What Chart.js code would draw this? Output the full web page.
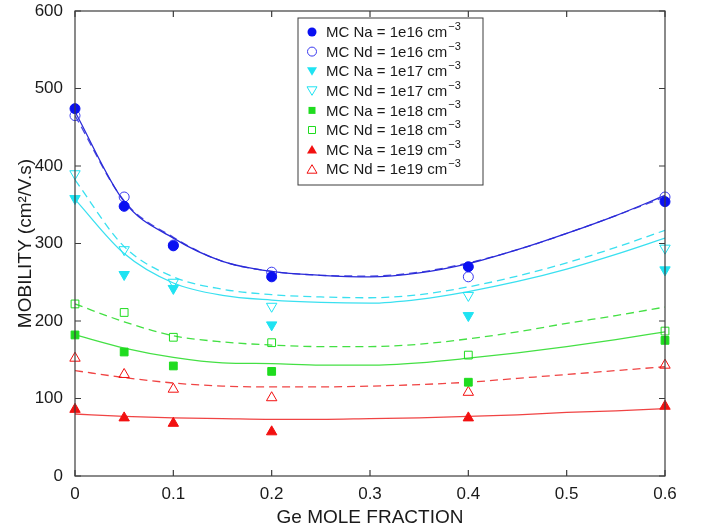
<!DOCTYPE html>
<html>
<head>
<meta charset="utf-8">
<script src="https://cdn.jsdelivr.net/npm/chart.js@4"></script>
<style>
  html, body { margin: 0; padding: 0; background: #fff; }
  #wrap { width: 705px; height: 532px; }
</style>
</head>
<body>
<div id="wrap"><canvas id="myChart" width="705" height="532"></canvas></div>
<script>
// Monte Carlo points (Ge mole fraction vs mobility)
const molePts = [0, 0.05, 0.1, 0.2, 0.4, 0.6];
const naE16 = [474, 348, 297, 257, 270, 354];
const ndE16 = [465, 360, 298, 263, 257, 360];
const naE17 = [358, 260, 242, 195, 207, 266];
const ndE17 = [390, 292, 250, 219, 233, 294];
const naE18 = [182, 160, 142, 135, 121, 175];
const ndE18 = [222, 211, 179, 172, 156, 187];
const naE19 = [86, 75, 68, 57, 75, 90];
const ndE19 = [152, 131, 112, 101, 108, 143];

// fitted curves
const fitX = [0, 0.05, 0.1, 0.15, 0.2, 0.25, 0.3, 0.35, 0.4, 0.45, 0.5, 0.55, 0.6];
const fitNa16 = [470, 354, 307, 277, 264, 259, 257, 262, 274, 292, 313, 336, 362];
const fitNd16 = [465, 355, 308, 277, 264, 259, 258, 263, 275, 292, 313, 336, 360];
const fitNa17 = [357, 287, 249, 233, 227, 224, 223, 228, 238, 251, 267, 286, 307];
const fitNd17 = [382, 296, 257, 241, 234, 231, 230, 234, 244, 258, 275, 295, 317];
const fitNa18 = [182, 165, 153, 146, 145, 143, 143, 146, 152, 159, 167, 176, 186];
const fitNd18 = [222, 199, 181, 173, 169, 167, 167, 170, 177, 186, 197, 207, 218];
const fitNa19 = [80, 77, 75, 74, 73, 73, 74, 75, 77, 79, 82, 84, 87];
const fitNd19 = [136, 127, 120, 116, 115, 115, 116, 118, 121, 126, 131, 136, 141];

const xTicks = [0, 0.1, 0.2, 0.3, 0.4, 0.5, 0.6];
const yTicks = [0, 100, 200, 300, 400, 500, 600];

const FONT = '"Liberation Sans", Arial, sans-serif';
const BLUE = '#0a10f2', CYAN = '#1fe3f2', GREEN = '#1fdc1f', RED = '#f21010';

const pts = (xs, ys) => xs.map((x, i) => ({ x: x, y: ys[i] }));

function marker(label, ys, color, shape, filled) {
    let r = 5;
    if (shape === 'rect') r = 5.5;
    if (shape === 'triangle' || shape === 'down') r = 6;
    return {
        label: label,
        legendLabel: label,
        legendShape: shape,
        data: pts(molePts, ys),
        showLine: false,
        clip: false,
        pointStyle: shape === 'down' ? 'triangle' : shape,
        rotation: shape === 'down' ? 180 : 0,
        pointRadius: r,
        borderWidth: 1,
        borderColor: color,
        backgroundColor: filled ? color : 'rgba(0,0,0,0)',
        pointBackgroundColor: filled ? color : 'rgba(0,0,0,0)',
        filledMark: filled
    };
}
function fit(ys, color, dashed) {
    return {
        label: '',
        data: pts(fitX, ys),
        pointRadius: 0,
        borderColor: color,
        borderWidth: 1.3,
        borderDash: dashed ? [8, 5] : [],
        cubicInterpolationMode: 'monotone',
        fill: false
    };
}

const datasets = [
    marker('MC Na = 1e16 cm', naE16, BLUE, 'circle', true),
    marker('MC Nd = 1e16 cm', ndE16, '#3a3af0', 'circle', false),
    marker('MC Na = 1e17 cm', naE17, CYAN, 'down', true),
    marker('MC Nd = 1e17 cm', ndE17, CYAN, 'down', false),
    marker('MC Na = 1e18 cm', naE18, GREEN, 'rect', true),
    marker('MC Nd = 1e18 cm', ndE18, GREEN, 'rect', false),
    marker('MC Na = 1e19 cm', naE19, RED, 'triangle', true),
    marker('MC Nd = 1e19 cm', ndE19, RED, 'triangle', false),
    fit(fitNa16, '#2a2ad8', false),
    fit(fitNd16, '#4a4ae0', true),
    fit(fitNa17, '#3ae0f0', false),
    fit(fitNd17, '#3ae0f0', true),
    fit(fitNa18, '#44e044', false),
    fit(fitNd18, '#44e044', true),
    fit(fitNa19, '#f04444', false),
    fit(fitNd19, '#f04444', true)
];

// draws the little markers for the legend by hand
function drawMark(ctx, shape, x, y, color, filled) {
    ctx.save();
    ctx.strokeStyle = color;
    ctx.fillStyle = color;
    ctx.lineWidth = 1;
    ctx.beginPath();
    if (shape === 'circle') {
        ctx.arc(x, y, 4.5, 0, Math.PI * 2);
    } else if (shape === 'rect') {
        ctx.rect(x - 3.5, y - 3.5, 7, 7);
    } else if (shape === 'down') {
        ctx.moveTo(x - 5, y - 4); ctx.lineTo(x + 5, y - 4); ctx.lineTo(x, y + 4.5); ctx.closePath();
    } else {
        ctx.moveTo(x - 5, y + 4); ctx.lineTo(x + 5, y + 4); ctx.lineTo(x, y - 4.5); ctx.closePath();
    }
    filled ? ctx.fill() : ctx.stroke();
    ctx.restore();
}

// MATLAB style box: frame on four sides and ticks pointing inwards, plus legend
const boxPlugin = {
    id: 'boxPlugin',
    afterDatasetsDraw(chart) {
        const ctx = chart.ctx;
        const a = chart.chartArea;
        const xs = chart.scales.x, ys = chart.scales.y;
        ctx.save();
        ctx.strokeStyle = '#3c3c3c';
        ctx.lineWidth = 1.2;
        ctx.strokeRect(a.left, a.top, a.right - a.left, a.bottom - a.top);
        ctx.beginPath();
        xTicks.forEach(v => {
            const px = xs.getPixelForValue(v);
            ctx.moveTo(px, a.bottom); ctx.lineTo(px, a.bottom - 6);
            ctx.moveTo(px, a.top); ctx.lineTo(px, a.top + 6);
        });
        yTicks.forEach(v => {
            const py = ys.getPixelForValue(v);
            ctx.moveTo(a.left, py); ctx.lineTo(a.left + 6, py);
            ctx.moveTo(a.right, py); ctx.lineTo(a.right - 6, py);
        });
        ctx.stroke();

        // legend
        const lx = 298, ly = 18, lw = 185, lh = 167;
        ctx.fillStyle = '#fff';
        ctx.fillRect(lx, ly, lw, lh);
        ctx.strokeStyle = '#3c3c3c';
        ctx.lineWidth = 1;
        ctx.strokeRect(lx, ly, lw, lh);
        const items = chart.data.datasets.filter(d => d.legendLabel);
        items.forEach((d, i) => {
            const y = ly + 14 + i * 19.6;
            drawMark(ctx, d.legendShape, lx + 14, y, d.borderColor, d.filledMark);
            ctx.fillStyle = '#1a1a1a';
            ctx.font = '15px ' + FONT;
            ctx.textBaseline = 'middle';
            ctx.textAlign = 'left';
            ctx.fillText(d.legendLabel, lx + 28, y + 1);
            const w = ctx.measureText(d.legendLabel).width;
            ctx.font = '11px ' + FONT;
            ctx.fillText('\u22123', lx + 28 + w + 1, y - 5);
        });
        ctx.restore();
    }
};

const config = {
    type: 'line',
    data: { datasets: datasets },
    options: {
        responsive: false,
        animation: false,
        layout: { padding: { top: 11, right: 40, left: 0, bottom: 0 } },
        plugins: {
            legend: { display: false },
            tooltip: { enabled: false }
        },
        scales: {
            x: {
                type: 'linear',
                min: 0,
                max: 0.6,
                afterBuildTicks: s => { s.ticks = xTicks.map(v => ({ value: v })); },
                afterFit: s => { s.height = 56; },
                grid: { display: false, drawTicks: false },
                border: { display: false },
                ticks: {
                    color: '#1a1a1a',
                    font: { family: FONT, size: 17 },
                    padding: 8,
                    maxRotation: 0,
                    callback: v => String(v)
                },
                title: {
                    display: true,
                    text: 'Ge MOLE FRACTION',
                    color: '#1a1a1a',
                    font: { family: FONT, size: 19 },
                    padding: { top: 0, bottom: 3 }
                }
            },
            y: {
                type: 'linear',
                min: 0,
                max: 600,
                afterBuildTicks: s => { s.ticks = yTicks.map(v => ({ value: v })); },
                afterFit: s => { s.width = 75; s.paddingTop = 0; s.paddingBottom = 0; },
                grid: { display: false, drawTicks: false },
                border: { display: false },
                ticks: {
                    color: '#1a1a1a',
                    font: { family: FONT, size: 17 },
                    padding: 12
                },
                title: {
                    display: true,
                    text: 'MOBILITY (cm\u00b2/V.s)',
                    color: '#1a1a1a',
                    font: { family: FONT, size: 19 },
                    padding: { top: 14, bottom: 0 }
                }
            }
        }
    },
    plugins: [boxPlugin]
};

const myChart = new Chart(document.getElementById('myChart'), config);
</script>
</body>
</html>
